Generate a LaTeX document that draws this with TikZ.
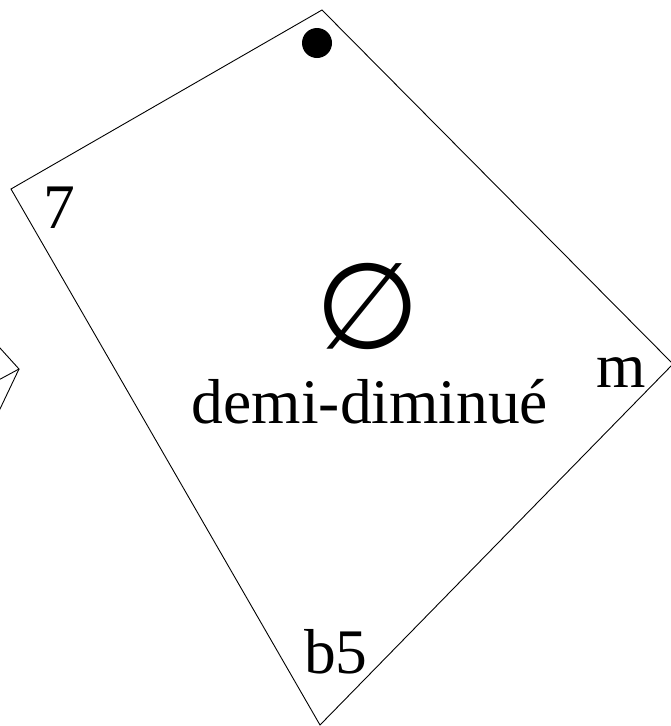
\documentclass[tikz,border=0pt]{standalone}
\usepackage{fontspec}
\setmainfont{Liberation Serif}
\newfontfamily\symfont{DejaVu Sans}
\tikzset{
  edge/.style={draw=black, line width=0.9pt},
  lbl/.style={inner sep=0pt, font=\fontsize{63.5}{70}\selectfont},
}
\begin{document}
\begin{tikzpicture}[x=1pt,y=-1pt]
\useasboundingbox (0,0) rectangle (671,726);
\clip (0,0) rectangle (671,726);
% main quadrilateral
\coordinate (T) at (322,10);
\coordinate (L) at (11,189);
\coordinate (B) at (320,725);
\coordinate (R) at (673,364);
\draw[edge] (T) -- (R) -- (B) -- (L) -- cycle;
% fragment of neighbour shape
\coordinate (V) at (19,369);
\coordinate (F1) at (-10,337);
\coordinate (F2) at (-20,390);
\coordinate (F3) at (-20,451);
\draw[edge] (F1) -- (V) -- (F2);
\draw[edge] (V) -- (F3);
% dot
\fill (317,43) circle (15);
% labels
\node[lbl, anchor=base west] (seven) at (43,228) {7};
\node[lbl, anchor=base west] (mm) at (596,387) {m};
\node[lbl, anchor=base west] (b5) at (304,673) {b5};
\node[lbl, anchor=base] (name) at (370,423) {demi-diminué};
\node[inner sep=0pt, font=\symfont\fontsize{120}{120}\selectfont] (sym) at (368,306) {∅};
\end{tikzpicture}
\end{document}
